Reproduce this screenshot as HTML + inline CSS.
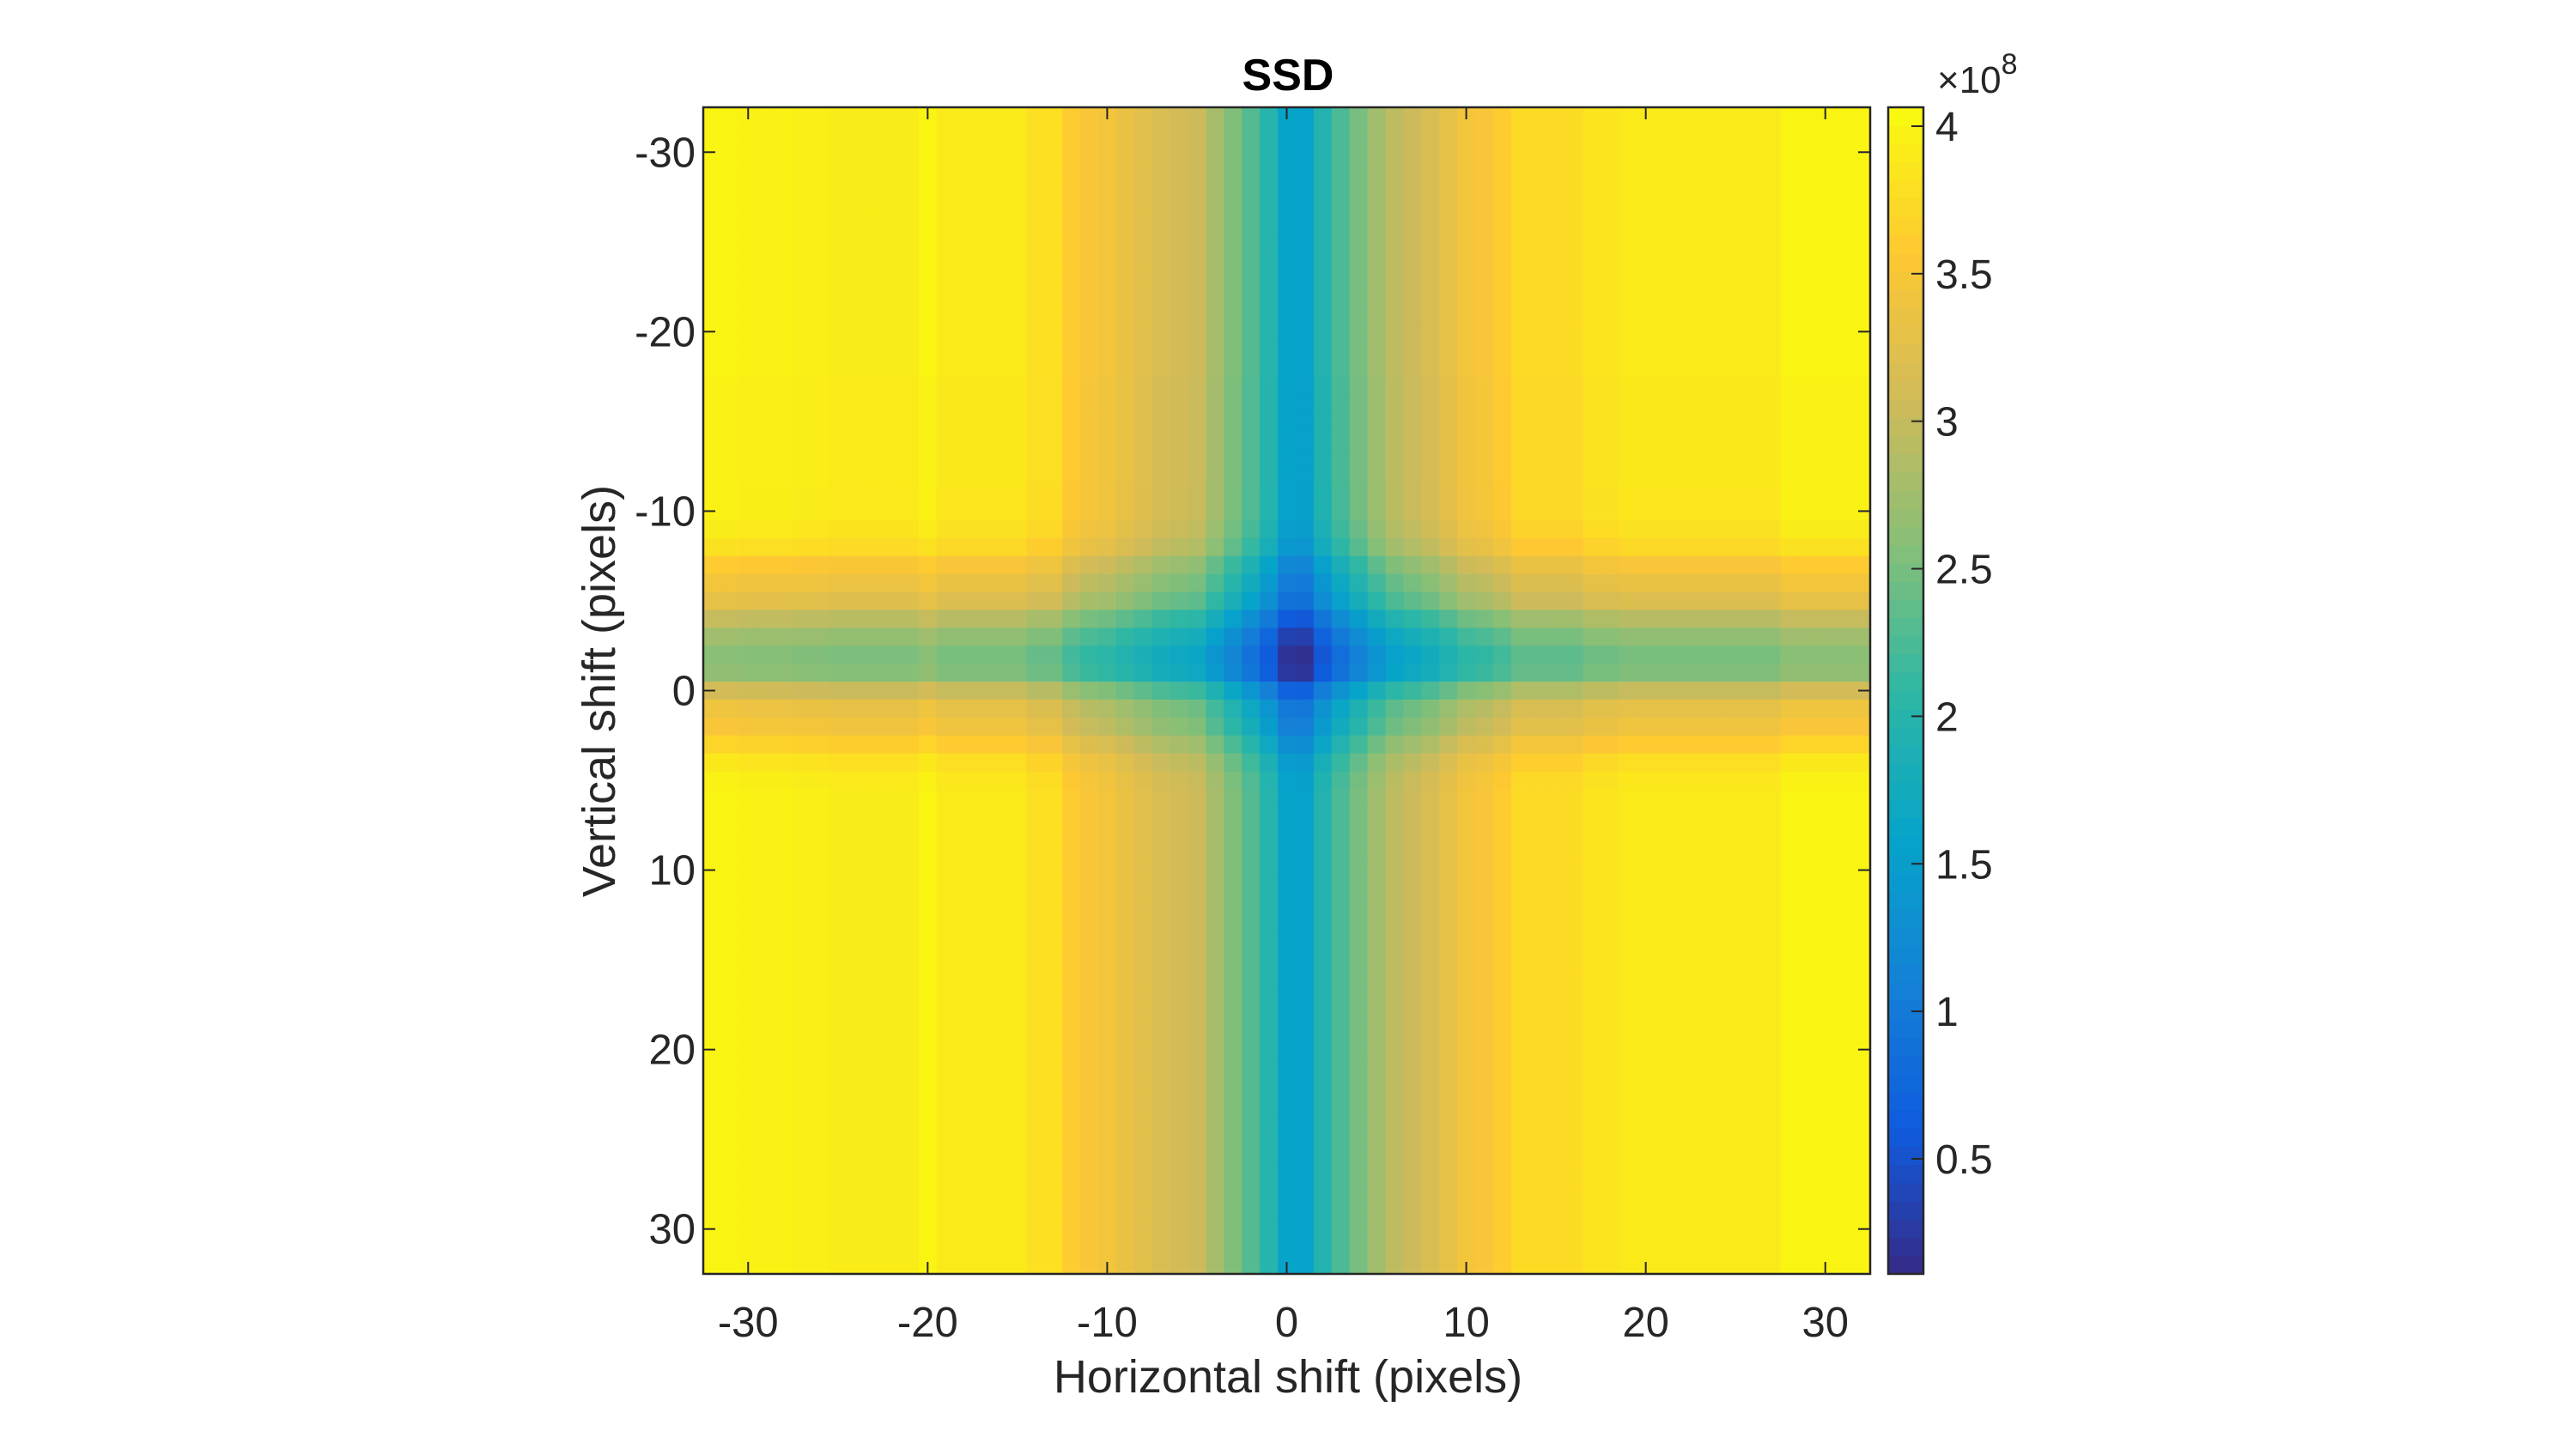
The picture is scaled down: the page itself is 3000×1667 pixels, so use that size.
<!DOCTYPE html>
<html>
<head>
<meta charset="utf-8">
<style>
  html, body { margin:0; padding:0; background:#ffffff; }
  svg { display:block; }
  text { font-family: "Liberation Sans", "DejaVu Sans", sans-serif; fill:#262626; }
</style>
</head>
<body>
<svg id="chart" width="3000" height="1667" viewBox="0 0 3000 1667" xmlns="http://www.w3.org/2000/svg">
  <rect x="0" y="0" width="3000" height="1667" fill="#ffffff"/>
  <g id="cells"></g>
  <g id="cbar"></g>
  <g id="axes"></g>
  <text x="1500" y="105" text-anchor="middle" font-size="52" font-weight="bold" style="fill:#000">SSD</text>
  <text x="1500" y="1622" text-anchor="middle" font-size="54">Horizontal shift (pixels)</text>
  <text x="0" y="0" transform="translate(716,805) rotate(-90)" text-anchor="middle" font-size="54">Vertical shift (pixels)</text>
  <text x="2256" y="108" font-size="44">×10<tspan dy="-22" font-size="34">8</tspan></text>
</svg>
<script>
// ---- data (values in units of 1e8) ----
const shifts = [];
for (let s = -32; s <= 32; s++) shifts.push(s);
// SSD along each horizontal shift, far from the central row band (dx = -32..32)
const colProfile = [4.0,4.0,3.97,3.97,3.97,3.95,3.95,3.92,3.92,3.92,3.92,3.92,4.0,3.9,3.9,3.9,3.9,3.9,3.8,3.8,3.6,3.5,3.45,3.35,3.25,3.15,3.1,3.05,2.8,2.55,2.3,2.0,1.6,1.57,1.95,2.25,2.5,2.75,2.95,3.05,3.15,3.3,3.45,3.5,3.6,3.75,3.75,3.75,3.75,3.85,3.85,3.9,3.9,3.9,3.9,3.9,3.9,3.9,3.9,3.9,4.0,4.0,4.0,4.0,4.0];
// SSD along each vertical shift at the left edge (dy = -32..32)
const rowProfile = [4.0,4.0,4.0,4.0,4.0,4.0,4.0,4.0,4.0,4.0,4.0,4.0,4.0,4.0,4.0,3.98,3.98,3.98,3.98,3.98,3.98,3.97,3.97,3.92,3.82,3.6,3.45,3.3,3.0,2.75,2.6,2.65,3.1,3.4,3.5,3.7,3.88,3.97,4.0,4.0,4.0,4.0,4.0,4.0,4.0,4.0,4.0,4.0,4.0,4.0,4.0,4.0,4.0,4.0,4.0,4.0,4.0,4.0,4.0,4.0,4.0,4.0,4.0,4.0,4.0];
const cornerValue = 4.0;
const axisTicks = [-30,-20,-10,0,10,20,30];
const cbarTicks = [0.5,1,1.5,2,2.5,3,3.5,4];
const cbarTickLabels = ["0.5","1","1.5","2","2.5","3","3.5","4"];
const cMin = 0.11, cMax = 4.064;

// ---- layout ----
const PX0 = 819, PX1 = 2178, PY0 = 125, PY1 = 1484;
const CBX0 = 2199, CBX1 = 2240;
const xScale = v => PX0 + (v + 32.5) / 65 * (PX1 - PX0);
const yScale = v => PY0 + (v + 32.5) / 65 * (PY1 - PY0);
const cScale = v => PY1 - (v - cMin) / (cMax - cMin) * (PY1 - PY0);

const parula = ['#352a87','#0f5cdd','#1481d6','#06a4ca','#2eb7a4','#87bf77','#d1bb59','#fec832','#f9fb0e'];
function hex2rgb(h){return [parseInt(h.slice(1,3),16),parseInt(h.slice(3,5),16),parseInt(h.slice(5,7),16)];}
const pal = parula.map(hex2rgb);
function colorOf(v){
  let t = (v - cMin) / (cMax - cMin);
  t = Math.max(0, Math.min(1, t));
  const p = t * (pal.length - 1);
  const i = Math.min(pal.length - 2, Math.floor(p));
  const f = p - i;
  const c = pal[i].map((a,k)=>Math.round(a + (pal[i+1][k]-a)*f));
  return 'rgb(' + c.join(',') + ')';
}
const NS = 'http://www.w3.org/2000/svg';
function mk(tag, attrs, parent){
  const el = document.createElementNS(NS, tag);
  for (const k in attrs) el.setAttribute(k, attrs[k]);
  parent.appendChild(el);
  return el;
}

// ---- heatmap ----
const cells = document.getElementById('cells');
for (let i = 0; i < shifts.length; i++) {
  for (let j = 0; j < shifts.length; j++) {
    const v = colProfile[j] + rowProfile[i] - cornerValue;
    const x0 = xScale(shifts[j] - 0.5), x1 = xScale(shifts[j] + 0.5);
    const y0 = yScale(shifts[i] - 0.5), y1 = yScale(shifts[i] + 0.5);
    const r = mk('rect', {x:x0, y:y0, width:(x1-x0+0.6), height:(y1-y0+0.6), fill:colorOf(v)}, cells);
    
    
  }
}

// ---- axes box and ticks ----
const axes = document.getElementById('axes');
const box = mk('rect', {x:PX0, y:PY0, width:PX1-PX0, height:PY1-PY0, fill:'none', stroke:'#262626', 'stroke-width':2.5}, axes);


axisTicks.forEach(t => {
  const x = xScale(t), y = yScale(t);
  mk('line', {x1:x, x2:x, y1:PY1, y2:PY1-14, stroke:'#262626', 'stroke-width':2}, axes);
  mk('line', {x1:x, x2:x, y1:PY0, y2:PY0+14, stroke:'#262626', 'stroke-width':2}, axes);
  mk('line', {x1:PX0, x2:PX0+14, y1:y, y2:y, stroke:'#262626', 'stroke-width':2}, axes);
  mk('line', {x1:PX1, x2:PX1-14, y1:y, y2:y, stroke:'#262626', 'stroke-width':2}, axes);
  const xl = mk('text', {x:x, y:1557, 'text-anchor':'middle', 'font-size':49}, axes);
  xl.textContent = String(t);
  
  
  const yl = mk('text', {x:810, y:y+17, 'text-anchor':'end', 'font-size':49}, axes);
  yl.textContent = String(t);
  
  
});

// ---- colorbar ----
const cbar = document.getElementById('cbar');
const nSteps = 64;
for (let k = 0; k < nSteps; k++) {
  const v0 = cMin + (cMax - cMin) * k / nSteps;
  const v1 = cMin + (cMax - cMin) * (k + 1) / nSteps;
  const y1 = cScale(v0), y0 = cScale(v1);
  const r = mk('rect', {x:CBX0, y:y0, width:CBX1-CBX0, height:(y1-y0+0.6), fill:colorOf((v0+v1)/2)}, cbar);
  
  
}
const cbFrame = mk('rect', {x:CBX0, y:PY0, width:CBX1-CBX0, height:PY1-PY0, fill:'none', stroke:'#262626', 'stroke-width':2.5}, cbar);


cbarTicks.forEach((t, idx) => {
  const y = cScale(t);
  mk('line', {x1:CBX1, x2:CBX1-14, y1:y, y2:y, stroke:'#262626', 'stroke-width':2}, cbar);
  const l = mk('text', {x:2254, y:y+17, 'font-size':48}, cbar);
  l.textContent = cbarTickLabels[idx];
  
  
});
</script>
</body>
</html>
